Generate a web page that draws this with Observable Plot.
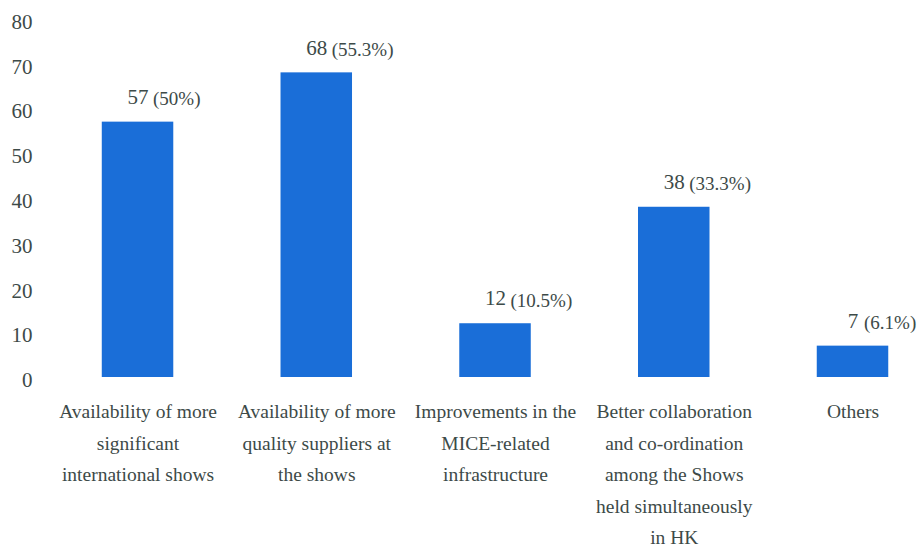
<!DOCTYPE html>
<html><head><meta charset="utf-8">
<script src="https://cdn.jsdelivr.net/npm/d3@7"></script>
<script src="https://cdn.jsdelivr.net/npm/@observablehq/plot@0.6"></script>
<style>body{margin:0;background:#fff}</style>
</head><body><div id="chart"></div>
<script>
const categories = [
  "Availability of more\nsignificant\ninternational shows",
  "Availability of more\nquality suppliers at\nthe shows",
  "Improvements in the\nMICE-related\ninfrastructure",
  "Better collaboration\nand co-ordination\namong the Shows\nheld simultaneously\nin HK",
  "Others"
];
const counts = [57, 68, 12, 38, 7];
const percents = ["(50%)", "(55.3%)", "(10.5%)", "(33.3%)", "(6.1%)"];
const yTicks = [0, 10, 20, 30, 40, 50, 60, 70, 80];

const data = categories.map((c, i) => ({category: c, count: counts[i], pct: percents[i]}));
const ink = "#3d4a48";
const serif = "Liberation Serif";

const chart = Plot.plot({
  width: 923, height: 549,
  marginLeft: 40, marginRight: 0, marginTop: 18.6, marginBottom: 172,
  style: {fontFamily: serif, color: ink},
  x: {domain: categories, paddingInner: 0.6, paddingOuter: 0.27, align: 0.64, round: false, axis: null, label: null},
  y: {domain: [0, 80], axis: null, label: null},
  marks: [
    Plot.axisY({ticks: yTicks, tickSize: 0, tickPadding: 8, fontSize: 21, dy: 3, label: null, fontFamily: serif, tickFormat: d => String(d)}),
    Plot.axisX({tickSize: 0, tickPadding: 18, fontSize: 19.5, lineHeight: 1.62, label: null, fontFamily: serif}),
    Plot.barY(data, {x: "category", y: "count", fill: "#1a6ed8"}),
    Plot.text(data, {x: "category", y: "count", text: d => String(d.count), fontSize: 21, dy: -25, fill: ink, fontFamily: serif}),
    Plot.text(data.filter(d => d.count >= 10), {x: "category", y: "count", text: "pct", textAnchor: "start", dx: 15, dy: -23, fontSize: 19, fill: ink, fontFamily: serif}),
    Plot.text(data.filter(d => d.count < 10), {x: "category", y: "count", text: "pct", textAnchor: "start", dx: 11, dy: -23, fontSize: 19, fill: ink, fontFamily: serif})
  ]
});
document.getElementById("chart").append(chart);
</script>
</body></html>
